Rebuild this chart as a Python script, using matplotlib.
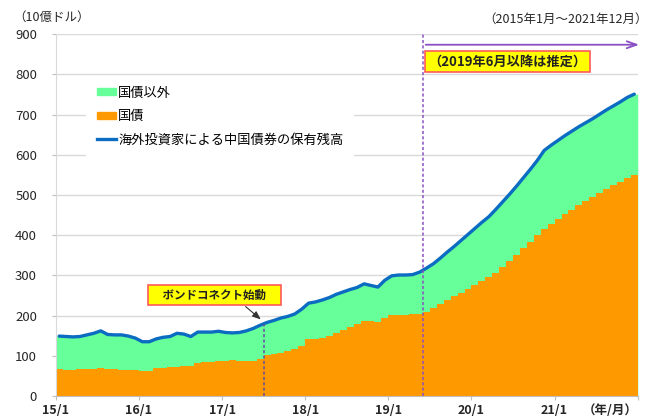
import numpy as np
import matplotlib
matplotlib.use('Agg')
import matplotlib.pyplot as plt
from matplotlib.patches import Patch
from matplotlib.lines import Line2D

plt.rcParams['font.family'] = ['Noto Sans CJK JP', 'DejaVu Sans']

# monthly data, 2015/1 .. 2021/12 (10億ドル)
total = [149, 148, 147, 148, 152, 156, 162, 153, 152, 152, 149, 144,
         135, 135, 142, 146, 148, 156, 154, 148, 159, 159, 159, 161,
         158, 157, 158, 162, 168, 176, 183, 188, 194, 198, 204, 216,
         231, 234, 239, 245, 253, 259, 265, 270, 279, 275, 271, 288,
         299, 301, 301, 302, 308, 318, 329, 343, 358, 372, 387, 402,
         417, 432, 446, 464, 483, 502, 522, 543, 564, 586, 611, 624,
         636, 648, 659, 670, 680, 690, 701, 712, 722, 732, 743, 751]
govt = [67, 65, 65, 66, 66, 66, 70, 66, 66, 65, 65, 65,
        62, 63, 69, 70, 71, 73, 75, 75, 83, 84, 85, 86,
        88, 89, 87, 87, 88, 93, 101, 104, 108, 113, 118, 124,
        142, 142, 145, 150, 157, 164, 172, 179, 186, 187, 184, 195,
        201, 202, 202, 204, 205, 210, 220, 230, 239, 248, 257, 266,
        276, 286, 297, 307, 320, 335, 352, 368, 383, 400, 416, 429,
        440, 453, 463, 474, 485, 495, 505, 516, 524, 532, 542, 550]
xlabels = ['15/1', '16/1', '17/1', '18/1', '19/1', '20/1', '21/1', '（年/月）']
bond_connect = 30   # 2017/7
est_start = 53      # 2019/6

C_GREEN = '#66ff99'
C_ORANGE = '#ff9900'
C_BLUE = '#0b6cc2'
C_PURPLE = '#8a4fc4'

total = np.array(total)
govt = np.array(govt)
n = len(total)
mid = np.arange(n) + 0.5

fig = plt.figure(figsize=(6.68, 4.17), dpi=100)
ax = fig.add_axes([0.0834, 0.0504, 0.8713, 0.8674])

ax.set_axisbelow(True)
ax.grid(axis='y', color='#d9d9d9', lw=1)

# green area (others) under the total line, orange steps for govt bonds
xf = np.concatenate([[0], mid, [n]])
yf = np.concatenate([[total[0]], total, [total[-1]]])
ax.fill_between(xf, 0, yf, color=C_GREEN, lw=0)
ax.stairs(govt, np.arange(n + 1), fill=True, color=C_ORANGE, lw=0)
ax.plot(mid, total, color=C_BLUE, lw=2.4, solid_capstyle='round')

ax.vlines(bond_connect, 0, 180, color='#6a4c9c', lw=1.1, linestyles=(0, (2, 1.5)))
ax.axvline(est_start, color=C_PURPLE, lw=1.1, ls=(0, (2, 1.5)))

ax.annotate('', xy=(84.6, 874), xytext=(est_start, 874), annotation_clip=False,
            arrowprops=dict(arrowstyle='->,head_length=0.7,head_width=0.25',
                            color=C_PURPLE, lw=1.3))
ax.text(65.2, 833, '（2019年6月以降は推定）', ha='center', va='center', fontsize=9.5,
        fontweight='bold', color='#222222',
        bbox=dict(boxstyle='square,pad=0.25', fc='#ffff00', ec='#ff5a5a', lw=1.2))

ax.text(22.9, 251, '\u3000ボンドコネクト始動\u3000', ha='center', va='center', fontsize=8.3,
        fontweight='bold', color='#222222',
        bbox=dict(boxstyle='square,pad=0.3', fc='#ffff00', ec='#ff5a5a', lw=1.2))
ax.annotate('', xy=(29.9, 186), xytext=(27.1, 227),
            arrowprops=dict(arrowstyle='-|>,head_length=0.5,head_width=0.2',
                            color='#333333', lw=0.8))

ax.set_xlim(0, n)
ax.set_ylim(0, 900)
ax.set_yticks(range(0, 901, 100))
ax.set_xticks(range(0, n + 1, 12))
ax.set_xticklabels(xlabels, fontweight='bold')
ax.get_xticklabels()[-1].set_ha('right')
ax.tick_params(axis='y', length=3, color='#bfbfbf', pad=10.5, labelsize=9.5, labelcolor='#262626')
ax.tick_params(axis='x', length=3, color='#bfbfbf', pad=3, labelsize=9, labelcolor='#262626')
for s in ['top', 'right']:
    ax.spines[s].set_visible(False)
ax.spines['left'].set_color('#d9d9d9')
ax.spines['bottom'].set_color('#bfbfbf')

handles = [Patch(color=C_GREEN), Patch(color=C_ORANGE), Line2D([], [], color=C_BLUE, lw=2.4)]
labels = ['国債以外', '国債', '海外投資家による中国債券の保有残高']
leg = ax.legend(handles, labels, loc='upper left', bbox_to_anchor=(0.052, 0.885),
                borderaxespad=0, fontsize=9.5, frameon=True, facecolor='white',
                edgecolor='none', framealpha=1, fancybox=False,
                handlelength=1.5, handleheight=0.45, handletextpad=0.15,
                labelspacing=0.8, borderpad=0.8)

fig.text(13 / 668, 1 - 17 / 417, '（10億ドル）', ha='left', va='center', fontsize=9, color='#262626')
fig.text(648 / 668, 1 - 19 / 417, '（2015年1月～2021年12月）', ha='right', va='center',
         fontsize=9, color='#262626')

fig.savefig('out.png', dpi=100)
